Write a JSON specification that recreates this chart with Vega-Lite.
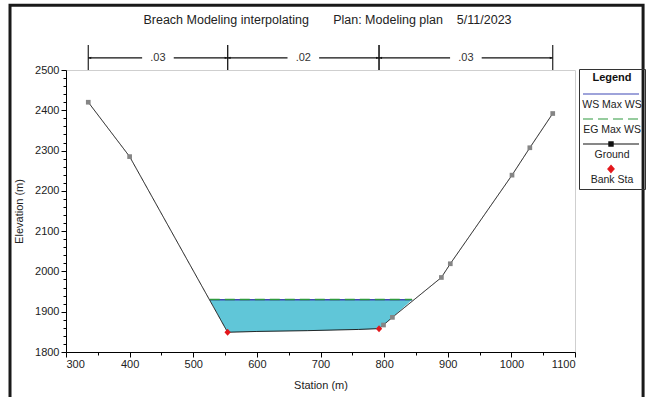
{
  "$schema": "https://vega.github.io/schema/vega-lite/v6.json",
  "width": 509,
  "height": 282,
  "autosize": "none",
  "padding": {"left": 66, "top": 70, "right": 79, "bottom": 45},
  "background": "white",
  "title": {
    "text": "Breach Modeling interpolating\u00a0\u00a0\u00a0\u00a0\u00a0\u00a0\u00a0Plan: Modeling plan\u00a0\u00a0\u00a0\u00a05/11/2023",
    "font": "Liberation Sans",
    "fontSize": 12.5,
    "fontWeight": "normal",
    "color": "#222",
    "anchor": "middle",
    "frame": "group",
    "offset": 0,
    "dx": 7,
    "dy": 23
  },
  "datasets": {
    "lines": [
      {"series": "WS Max WS", "station": 526, "elev": 1930},
      {"series": "WS Max WS", "station": 844, "elev": 1930},
      {"series": "EG Max WS", "station": 526, "elev": 1930.5},
      {"series": "EG Max WS", "station": 844, "elev": 1930.5},
      {"series": "Ground", "station": 335, "elev": 2420},
      {"series": "Ground", "station": 400, "elev": 2285},
      {"series": "Ground", "station": 554, "elev": 1849},
      {"series": "Ground", "station": 600, "elev": 1851},
      {"series": "Ground", "station": 680, "elev": 1853},
      {"series": "Ground", "station": 760, "elev": 1856},
      {"series": "Ground", "station": 792, "elev": 1858},
      {"series": "Ground", "station": 799, "elev": 1867},
      {"series": "Ground", "station": 813, "elev": 1886},
      {"series": "Ground", "station": 890, "elev": 1985},
      {"series": "Ground", "station": 904, "elev": 2019},
      {"series": "Ground", "station": 1001, "elev": 2239},
      {"series": "Ground", "station": 1029, "elev": 2307},
      {"series": "Ground", "station": 1065, "elev": 2392}
    ],
    "banks": [
      {"series": "Bank Sta", "station": 554, "elev": 1849},
      {"series": "Bank Sta", "station": 792, "elev": 1858}
    ],
    "water": [
      {"station": 526, "ws": 1930, "bed": 1930},
      {"station": 554, "ws": 1930, "bed": 1849},
      {"station": 600, "ws": 1930, "bed": 1851},
      {"station": 680, "ws": 1930, "bed": 1853},
      {"station": 760, "ws": 1930, "bed": 1856},
      {"station": 792, "ws": 1930, "bed": 1858},
      {"station": 799, "ws": 1930, "bed": 1867},
      {"station": 813, "ws": 1930, "bed": 1886},
      {"station": 844, "ws": 1930, "bed": 1930}
    ],
    "nvals": [
      {"seg": 1, "from": 335, "to": 554, "n": ".03"},
      {"seg": 2, "from": 554, "to": 792, "n": ".02"},
      {"seg": 3, "from": 792, "to": 1065, "n": ".03"}
    ]
  },
  "config": {
    "view": {"stroke": "#cfcfcf"},
    "font": "Liberation Sans",
    "axis": {
      "labelFont": "Liberation Sans",
      "labelFontSize": 11,
      "labelColor": "#222",
      "titleFont": "Liberation Sans",
      "titleFontSize": 11,
      "titleFontWeight": "normal",
      "titleColor": "#222",
      "domainColor": "#000",
      "tickColor": "#000",
      "gridColor": "#cfcfcf",
      "gridWidth": 1
    },
    "legend": {
      "labelFont": "Liberation Sans",
      "labelFontSize": 10.5,
      "labelColor": "#222",
      "titleFont": "Liberation Sans",
      "titleFontSize": 11,
      "titleFontWeight": "bold",
      "titleColor": "#111",
      "strokeColor": "#333",
      "padding": 3,
      "rowPadding": -2,
      "symbolSize": 196,
      "symbolStrokeWidth": 1.2,
      "symbolOffset": 21,
      "labelOffset": -7,
      "labelAlign": "center",
      "labelBaseline": "top",
      "titleAnchor": "middle",
      "titlePadding": 3
    }
  },
  "encoding": {
    "x": {
      "type": "quantitative",
      "scale": {"domain": [300, 1100], "nice": false, "zero": false},
      "axis": {
        "title": "Station (m)",
        "format": "d",
        "values": [300, 350, 400, 450, 500, 550, 600, 650, 700, 750, 800, 850, 900, 950, 1000, 1050, 1100],
        "labelExpr": "datum.value % 100 == 0 ? datum.label : ''",
        "tickSize": {"condition": {"test": "datum.value % 100 == 0", "value": 5}, "value": 3},
        "gridOpacity": {"condition": {"test": "datum.value % 100 == 0", "value": 1}, "value": 0},
        "labelPadding": 1,
        "titlePadding": 10
      }
    },
    "y": {
      "type": "quantitative",
      "scale": {"domain": [1800, 2500], "nice": false, "zero": false},
      "axis": {
        "title": "Elevation (m)",
        "format": "d",
        "values": [1800, 1820, 1840, 1860, 1880, 1900, 1920, 1940, 1960, 1980, 2000, 2020, 2040, 2060, 2080, 2100, 2120, 2140, 2160, 2180, 2200, 2220, 2240, 2260, 2280, 2300, 2320, 2340, 2360, 2380, 2400, 2420, 2440, 2460, 2480, 2500],
        "labelExpr": "datum.value % 100 == 0 ? datum.label : ''",
        "tickSize": {"condition": {"test": "datum.value % 100 == 0", "value": 5}, "value": 3},
        "gridOpacity": {"condition": {"test": "datum.value % 100 == 0", "value": 1}, "value": 0},
        "labelPadding": 2,
        "titlePadding": 10
      }
    }
  },
  "layer": [
    {
      "data": {"values": [{}]},
      "mark": {"type": "rect", "fill": null, "stroke": "#1a1a1a", "strokeWidth": 3, "clip": false},
      "encoding": {
        "x": {"datum": 212, "type": "quantitative"},
        "x2": {"datum": 1207},
        "y": {"datum": 1650, "type": "quantitative"},
        "y2": {"datum": 2661}
      }
    },
    {
      "data": {"name": "nvals"},
      "mark": {"type": "rule", "color": "#222", "strokeWidth": 1.2, "clip": false},
      "encoding": {
        "x": {"field": "from", "type": "quantitative"},
        "y": {"datum": 2500, "type": "quantitative"},
        "y2": {"datum": 2562}
      }
    },
    {
      "data": {"name": "nvals"},
      "mark": {"type": "rule", "color": "#222", "strokeWidth": 1.2, "clip": false},
      "encoding": {
        "x": {"field": "to", "type": "quantitative"},
        "y": {"datum": 2500, "type": "quantitative"},
        "y2": {"datum": 2562}
      }
    },
    {
      "data": {"name": "nvals"},
      "mark": {"type": "rule", "color": "#111", "strokeWidth": 1.2, "clip": false},
      "encoding": {
        "x": {"field": "from", "type": "quantitative"},
        "x2": {"field": "to"},
        "y": {"datum": 2530, "type": "quantitative"}
      }
    },
    {
      "data": {"name": "nvals"},
      "mark": {"type": "point", "shape": "M0,0L2,-0.7L2,0.7Z", "size": 9, "filled": true, "color": "#111", "opacity": 1, "clip": false},
      "encoding": {
        "x": {"field": "from", "type": "quantitative"},
        "y": {"datum": 2530, "type": "quantitative"}
      }
    },
    {
      "data": {"name": "nvals"},
      "mark": {"type": "point", "shape": "M0,0L-2,-0.7L-2,0.7Z", "size": 9, "filled": true, "color": "#111", "opacity": 1, "clip": false},
      "encoding": {
        "x": {"field": "to", "type": "quantitative"},
        "y": {"datum": 2530, "type": "quantitative"}
      }
    },
    {
      "data": {"name": "nvals"},
      "transform": [{"fold": ["from", "to"], "as": ["end", "station"]}],
      "mark": {"type": "point", "shape": "M-1,-0.4H1V0.4H-1Z", "size": 1000, "filled": true, "color": "white", "opacity": 1, "clip": false},
      "encoding": {
        "x": {"aggregate": "mean", "field": "station", "type": "quantitative"},
        "y": {"datum": 2530, "type": "quantitative"},
        "detail": {"field": "seg", "type": "nominal"}
      }
    },
    {
      "data": {"name": "nvals"},
      "transform": [{"fold": ["from", "to"], "as": ["end", "station"]}],
      "mark": {"type": "text", "font": "Liberation Sans", "fontSize": 11, "color": "#333", "baseline": "middle", "align": "center", "clip": false},
      "encoding": {
        "x": {"aggregate": "mean", "field": "station", "type": "quantitative"},
        "y": {"datum": 2530, "type": "quantitative"},
        "detail": {"field": "seg", "type": "nominal"},
        "text": {"field": "n", "type": "nominal"}
      }
    },
    {
      "data": {"name": "water"},
      "mark": {"type": "area", "color": "#60c6d8", "opacity": 1},
      "encoding": {
        "x": {"field": "station", "type": "quantitative"},
        "y": {"field": "ws", "type": "quantitative"},
        "y2": {"field": "bed"}
      }
    },
    {
      "data": {"name": "lines"},
      "transform": [{"filter": "datum.series == 'WS Max WS'"}],
      "mark": {"type": "line", "strokeWidth": 1.5},
      "encoding": {
        "x": {"field": "station", "type": "quantitative"},
        "y": {"field": "elev", "type": "quantitative"},
        "color": {"field": "series", "type": "nominal", "scale": {"domain": ["WS Max WS", "EG Max WS", "Ground", "Bank Sta"], "range": ["#3f48b5", "#2e9a3e", "#111111", "#e3161b"]}, "legend": {"title": "Legend", "orient": "none", "legendX": 513, "legendY": -1, "encode": {"symbols": {"update": {"stroke": {"scale": "color", "field": "value"}, "fill": {"scale": "color", "field": "value"}}}, "labels": {"update": {"dy": {"value": 6}}}}}},
        "strokeDash": {"field": "series", "type": "nominal", "scale": {"domain": ["WS Max WS", "EG Max WS", "Ground", "Bank Sta"], "range": [[1, 0], [10, 5], [1, 0], [1, 0]]}, "legend": {"title": "Legend", "orient": "none", "legendX": 513, "legendY": -1}}
      }
    },
    {
      "data": {"name": "lines"},
      "transform": [{"filter": "datum.series == 'EG Max WS'"}],
      "mark": {"type": "line", "strokeWidth": 1.5},
      "encoding": {
        "x": {"field": "station", "type": "quantitative"},
        "y": {"field": "elev", "type": "quantitative"},
        "color": {"field": "series", "type": "nominal", "scale": {"domain": ["WS Max WS", "EG Max WS", "Ground", "Bank Sta"]}, "legend": {"title": "Legend", "orient": "none", "legendX": 513, "legendY": -1}},
        "strokeDash": {"field": "series", "type": "nominal", "scale": {"domain": ["WS Max WS", "EG Max WS", "Ground", "Bank Sta"]}, "legend": {"title": "Legend", "orient": "none", "legendX": 513, "legendY": -1}}
      }
    },
    {
      "data": {"name": "lines"},
      "transform": [{"filter": "datum.series == 'Ground'"}],
      "mark": {"type": "line", "strokeWidth": 1},
      "encoding": {
        "x": {"field": "station", "type": "quantitative"},
        "y": {"field": "elev", "type": "quantitative"},
        "color": {"field": "series", "type": "nominal", "scale": {"domain": ["WS Max WS", "EG Max WS", "Ground", "Bank Sta"]}, "legend": {"title": "Legend", "orient": "none", "legendX": 513, "legendY": -1}},
        "strokeDash": {"field": "series", "type": "nominal", "scale": {"domain": ["WS Max WS", "EG Max WS", "Ground", "Bank Sta"]}, "legend": {"title": "Legend", "orient": "none", "legendX": 513, "legendY": -1}}
      }
    },
    {
      "data": {"name": "lines"},
      "transform": [{"filter": "datum.series == 'Ground' && (datum.station < 550 || datum.station > 795)"}],
      "mark": {"type": "point", "shape": "square", "size": 22, "filled": true, "color": "#858585", "opacity": 1},
      "encoding": {
        "x": {"field": "station", "type": "quantitative"},
        "y": {"field": "elev", "type": "quantitative"}
      }
    },
    {
      "data": {"name": "banks"},
      "mark": {"type": "point", "size": 196, "filled": true, "opacity": 1},
      "encoding": {
        "x": {"field": "station", "type": "quantitative"},
        "y": {"field": "elev", "type": "quantitative"},
        "color": {"field": "series", "type": "nominal", "scale": {"domain": ["WS Max WS", "EG Max WS", "Ground", "Bank Sta"]}, "legend": {"title": "Legend", "orient": "none", "legendX": 513, "legendY": -1}},
        "shape": {"field": "series", "type": "nominal", "scale": {"domain": ["WS Max WS", "EG Max WS", "Ground", "Bank Sta"], "range": ["M-4,0L4,0", "M-4,0L4,0", "M-4,0L4,0M-0.3,-0.3H0.3V0.3H-0.3Z", "M0,-0.5L0.45,0L0,0.5L-0.45,0Z"]}, "legend": {"title": "Legend", "orient": "none", "legendX": 513, "legendY": -1}}
      }
    }
  ]
}
